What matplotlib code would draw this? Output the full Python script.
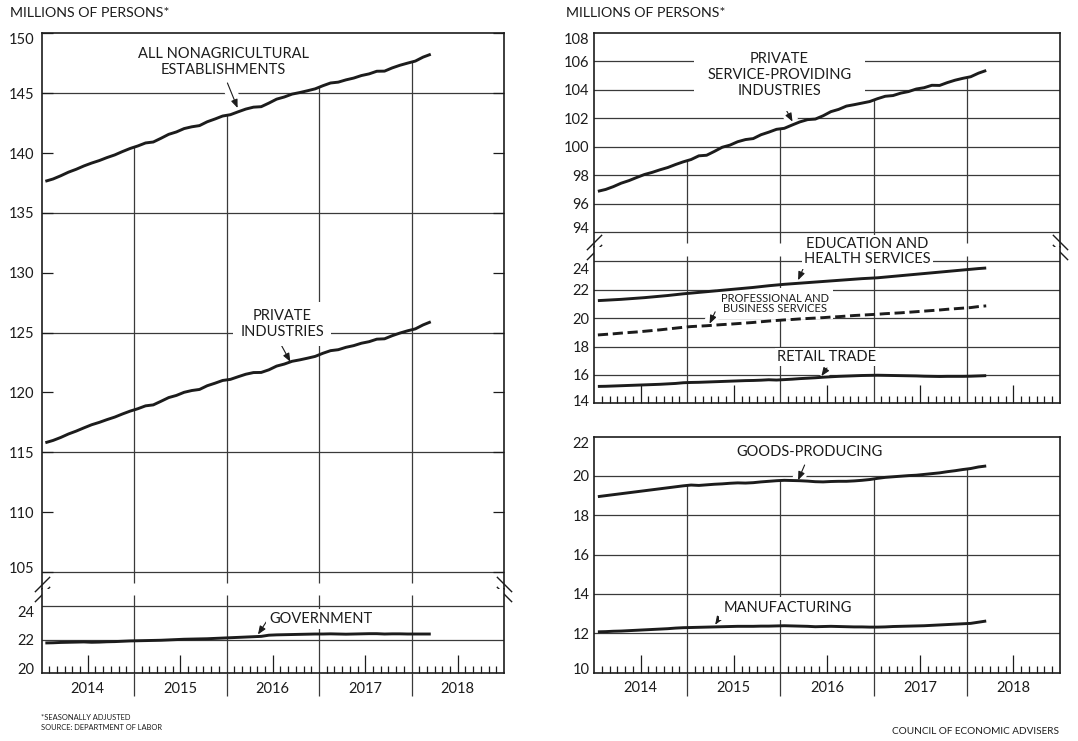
import numpy as np
import matplotlib
matplotlib.use("Agg")
import matplotlib.pyplot as plt
import matplotlib.transforms as mtransforms

# payroll employment, monthly Jan 2014 - Mar 2018, millions of persons (SA)
nonag = [137.64, 137.83, 138.10, 138.40, 138.64, 138.92, 139.16, 139.37, 139.62, 139.84, 140.12, 140.38,
         140.59, 140.84, 140.92, 141.23, 141.56, 141.76, 142.04, 142.19, 142.29, 142.61, 142.84, 143.09,
         143.20, 143.44, 143.67, 143.83, 143.87, 144.17, 144.50, 144.68, 144.92, 145.05, 145.20, 145.36,
         145.62, 145.85, 145.92, 146.11, 146.26, 146.47, 146.61, 146.83, 146.84, 147.11, 147.33, 147.51,
         147.68, 148.01, 148.25]
private = [115.80, 115.99, 116.24, 116.53, 116.77, 117.04, 117.30, 117.50, 117.73, 117.94, 118.20, 118.44,
           118.64, 118.88, 118.96, 119.26, 119.57, 119.75, 120.01, 120.16, 120.25, 120.56, 120.77, 121.00,
           121.09, 121.31, 121.52, 121.66, 121.67, 121.89, 122.20, 122.37, 122.60, 122.72, 122.86, 123.01,
           123.27, 123.49, 123.57, 123.77, 123.91, 124.11, 124.24, 124.45, 124.48, 124.74, 124.96, 125.15,
           125.31, 125.64, 125.90]
government = [21.80, 21.81, 21.83, 21.84, 21.85, 21.86, 21.84, 21.85, 21.87, 21.88, 21.90, 21.92,
              21.93, 21.94, 21.95, 21.96, 21.98, 22.00, 22.02, 22.03, 22.04, 22.05, 22.07, 22.09,
              22.11, 22.13, 22.15, 22.17, 22.19, 22.26, 22.28, 22.29, 22.30, 22.31, 22.32, 22.33,
              22.33, 22.34, 22.33, 22.32, 22.33, 22.34, 22.35, 22.35, 22.33, 22.34, 22.34, 22.33,
              22.33, 22.33, 22.33]
private_services = [96.89, 97.02, 97.22, 97.46, 97.64, 97.86, 98.07, 98.22, 98.40, 98.56, 98.77, 98.96,
                    99.12, 99.38, 99.42, 99.69, 99.98, 100.13, 100.37, 100.52, 100.59, 100.86, 101.04, 101.24,
                    101.31, 101.54, 101.76, 101.92, 101.96, 102.19, 102.48, 102.64, 102.87, 102.97, 103.08, 103.19,
                    103.39, 103.56, 103.61, 103.78, 103.89, 104.07, 104.16, 104.33, 104.32, 104.52, 104.69, 104.82,
                    104.93, 105.18, 105.37]
educ_health = [21.24, 21.27, 21.30, 21.33, 21.37, 21.41, 21.45, 21.50, 21.55, 21.60, 21.66, 21.72,
               21.77, 21.82, 21.87, 21.92, 21.97, 22.02, 22.07, 22.12, 22.17, 22.23, 22.29, 22.34,
               22.39, 22.43, 22.47, 22.51, 22.55, 22.59, 22.63, 22.67, 22.71, 22.75, 22.79, 22.82,
               22.85, 22.90, 22.95, 23.00, 23.05, 23.10, 23.15, 23.20, 23.25, 23.30, 23.35, 23.40,
               23.45, 23.50, 23.54]
prof_business = [18.82, 18.86, 18.90, 18.95, 18.99, 19.03, 19.08, 19.13, 19.18, 19.24, 19.30, 19.36,
                 19.41, 19.44, 19.47, 19.51, 19.55, 19.58, 19.62, 19.66, 19.70, 19.75, 19.80, 19.84,
                 19.88, 19.91, 19.95, 19.98, 20.01, 20.04, 20.08, 20.11, 20.15, 20.19, 20.22, 20.25,
                 20.28, 20.32, 20.35, 20.38, 20.42, 20.46, 20.50, 20.54, 20.58, 20.63, 20.67, 20.71,
                 20.75, 20.82, 20.87]
retail = [15.19, 15.20, 15.22, 15.24, 15.26, 15.28, 15.30, 15.32, 15.34, 15.37, 15.40, 15.45,
          15.47, 15.48, 15.50, 15.52, 15.54, 15.56, 15.58, 15.60, 15.61, 15.63, 15.66, 15.64,
          15.67, 15.70, 15.74, 15.77, 15.80, 15.84, 15.87, 15.90, 15.92, 15.94, 15.96, 15.97,
          15.98, 15.97, 15.96, 15.95, 15.94, 15.93, 15.91, 15.90, 15.89, 15.90, 15.90, 15.90,
          15.91, 15.93, 15.95]
goods = [18.95, 19.00, 19.05, 19.10, 19.15, 19.20, 19.25, 19.30, 19.35, 19.40, 19.45, 19.50,
         19.54, 19.52, 19.55, 19.58, 19.60, 19.63, 19.65, 19.64, 19.66, 19.70, 19.73, 19.76,
         19.78, 19.77, 19.76, 19.74, 19.71, 19.70, 19.72, 19.73, 19.73, 19.75, 19.78, 19.82,
         19.88, 19.93, 19.96, 19.99, 20.02, 20.04, 20.08, 20.12, 20.16, 20.22, 20.27, 20.33,
         20.38, 20.46, 20.51]
manufacturing = [12.07, 12.08, 12.10, 12.11, 12.13, 12.15, 12.17, 12.19, 12.21, 12.23, 12.26, 12.28,
                 12.29, 12.30, 12.31, 12.32, 12.33, 12.34, 12.35, 12.35, 12.35, 12.36, 12.36, 12.37,
                 12.38, 12.37, 12.36, 12.35, 12.33, 12.34, 12.35, 12.34, 12.33, 12.32, 12.32, 12.31,
                 12.31, 12.32, 12.34, 12.35, 12.36, 12.37, 12.38, 12.40, 12.42, 12.44, 12.46, 12.48,
                 12.50, 12.56, 12.62]

years = [2014, 2015, 2016, 2017, 2018]
year_labels = ["2014", "2015", "2016", "2017", "2018"]

x = 2014 + (np.arange(len(nonag)) + 0.5) / 12
bounds = years[1:]

INK = "#1c1c1c"
GRID = "#3a3a3a"
W, H = 1078, 741

plt.rcParams["font.family"] = ["Lato", "DejaVu Sans"]

fig = plt.figure(figsize=(W / 100, H / 100), dpi=100)


def add_ax(l, t, r, b):
    return fig.add_axes([l / W, 1 - b / H, (r - l) / W, (b - t) / H])


def shift(dy):
    return mtransforms.ScaledTranslation(0, dy / 100, fig.dpi_scale_trans)


def frame(ax, ylim, hide, yticks, grid, pad, tick_len=0, edge_shift=(0, 0)):
    ax.set_xlim(2014, 2019)
    ax.set_ylim(*ylim)
    for s in ax.spines.values():
        s.set_linewidth(1.2)
        s.set_color(INK)
    for s in hide:
        ax.spines[s].set_visible(False)
    ax.tick_params(axis="x", which="both", bottom=False, labelbottom=False)
    ax.set_yticks(yticks, labels=[str(v) for v in yticks])
    ax.tick_params(axis="y", direction="in", length=tick_len, width=0.9, right=True,
                   pad=pad, labelsize=10.5, colors=INK)
    # pull the end labels inward, away from the frame corners / breaks
    lo, hi = min(yticks), max(yticks)
    for lab, v in zip(ax.get_yticklabels(), yticks):
        if v == hi and edge_shift[1]:
            lab.set_transform(lab.get_transform() + shift(-edge_shift[1]))
        if v == lo and edge_shift[0]:
            lab.set_transform(lab.get_transform() + shift(edge_shift[0]))
    for g in grid:
        ax.axhline(g, color=GRID, lw=0.9, zorder=1)


def month_ticks(ax, labels):
    ax.set_xticks([y + 0.5 for y in years], labels=year_labels if labels else [])
    ax.set_xticks([y + m / 12 for y in years for m in range(1, 12) if m != 6], minor=True)
    ax.tick_params(axis="x", which="major", bottom=True, direction="in", length=13, width=0.9,
                   pad=6, labelsize=10.5, colors=INK, labelbottom=labels)
    ax.tick_params(axis="x", which="minor", bottom=True, direction="in", length=5, width=0.9,
                   colors=INK)
    if labels:
        h = 23 / (ax.get_position().height * H)
        ax.vlines(bounds, -h, 0, transform=ax.get_xaxis_transform(), colors=GRID,
                  lw=0.9, clip_on=False)


def break_marks(ax):
    for sx, mk in ((0, [(-1, -1), (1, 1)]), (1, [(-1, 1), (1, -1)])):
        for dy in (-5, 5):
            ax.plot([sx], [0], transform=ax.transAxes + shift(dy), marker=mk, ms=11,
                    mew=1, color=INK, ls="none", clip_on=False, zorder=5)


def series(ax, y, **kw):
    ax.plot(x, y, color=INK, lw=2.1, solid_capstyle="butt", zorder=4, **kw)


def label(ax, text, xy, tail, tip, ha="center", fs=10.5, pad=0.3, ls=1.15):
    # white gap cut into the grid where the pointer crosses it
    ax.plot([tail[0], tip[0]], [tail[1], tip[1]], color="white", lw=9,
            solid_capstyle="butt", zorder=1.5)
    ax.annotate("", xy=tip, xytext=tail, zorder=2,
                arrowprops=dict(arrowstyle="-|>,head_length=0.5,head_width=0.2",
                                color=INK, lw=0.8, shrinkA=0, shrinkB=0, mutation_scale=10))
    ax.text(*xy, text, ha=ha, va="center", fontsize=fs, color=INK, linespacing=ls, zorder=3,
            bbox=dict(boxstyle=f"square,pad={pad}", fc="white", ec="none"))


# ---------------- left panel ----------------
axL1 = add_ax(41.5, 33.3, 504, 589)
axL2 = add_ax(41.5, 589, 504, 673.3)

frame(axL1, (103.58, 150), ["bottom"], list(range(105, 151, 5)), [145, 135, 125, 115, 105],
      pad=5.4, tick_len=8, edge_shift=(5, 5))
frame(axL2, (20, 25), ["top"], [20, 22, 24], [24, 22], pad=5.4, edge_shift=(5, 6))
month_ticks(axL2, True)
break_marks(axL1)

axL1.vlines(bounds, 104.1, np.interp(bounds, x, nonag), colors=GRID, lw=0.9, zorder=1)
axL2.vlines(bounds, 20, 24.65, colors=GRID, lw=0.9, zorder=1)

series(axL1, nonag)
series(axL1, private)
series(axL2, government)

label(axL1, "ALL NONAGRICULTURAL\nESTABLISHMENTS", (2015.97, 147.6), (2016.01, 145.85), (2016.12, 143.76))
label(axL1, "PRIVATE\nINDUSTRIES", (2016.60, 125.72), (2016.58, 124.13), (2016.69, 122.56), pad=0.5)
label(axL2, "GOVERNMENT", (2016.46, 23.23), (2016.43, 23.05), (2016.34, 22.3), ha="left", pad=0.2)

# ---------------- right panels ----------------
axR1 = add_ax(594, 33, 1060, 247.3)
axR2 = add_ax(594, 247.3, 1060, 403.3)
axR3 = add_ax(594, 436.7, 1060, 672.5)

frame(axR1, (92.96, 108), ["bottom"], list(range(94, 109, 2)), list(range(94, 107, 2)),
      pad=3.4, edge_shift=(5, 5))
frame(axR2, (14, 25), ["top"], list(range(14, 25, 2)), list(range(16, 25, 2)),
      pad=3.4, edge_shift=(3, 7))
frame(axR3, (10, 22), [], list(range(10, 23, 2)), list(range(12, 21, 2)),
      pad=3.4, edge_shift=(4, 6))
month_ticks(axR2, False)
month_ticks(axR3, True)
break_marks(axR1)

axR1.vlines(bounds, 93.28, np.interp(bounds, x, private_services), colors=GRID, lw=0.9, zorder=1)
axR2.vlines(bounds, 14, 24.37, colors=GRID, lw=0.9, zorder=1)
axR3.vlines(bounds, 10, np.interp(bounds, x, goods), colors=GRID, lw=0.9, zorder=1)

series(axR1, private_services)
series(axR2, educ_health)
series(axR2, prof_business, ls=(0, (3.5, 1.6)))
series(axR2, retail)
series(axR3, goods)
series(axR3, manufacturing)

label(axR1, "PRIVATE\nSERVICE-PROVIDING\nINDUSTRIES", (2015.99, 105.05), (2016.02, 103.11),
      (2016.13, 101.78), pad=0.9)
label(axR2, "EDUCATION AND\nHEALTH SERVICES", (2016.93, 24.70), (2016.26, 23.74), (2016.19, 22.68),
      pad=0.15)
label(axR2, "PROFESSIONAL AND\nBUSINESS SERVICES", (2015.94, 21.03), (2015.30, 20.45),
      (2015.24, 19.61), fs=8, pad=0.4, ls=0.95)
label(axR2, "RETAIL TRADE", (2016.50, 17.28), (2016.50, 16.49), (2016.44, 15.92), pad=0.15)
label(axR3, "GOODS-PRODUCING", (2016.31, 21.24), (2016.26, 20.56), (2016.19, 19.79))
label(axR3, "MANUFACTURING", (2015.39, 13.27), (2015.38, 13.02), (2015.30, 12.43), ha="left")

# ---------------- titles and notes ----------------
fig.text(10 / W, 1 - 13 / H, "MILLIONS OF PERSONS*", fontsize=10.2, color=INK, va="center")
fig.text(566 / W, 1 - 13 / H, "MILLIONS OF PERSONS*", fontsize=10.2, color=INK, va="center")
fig.text(41 / W, 1 - 717 / H, "*SEASONALLY ADJUSTED", fontsize=5.4, color=INK, va="center")
fig.text(41 / W, 1 - 728 / H, "SOURCE: DEPARTMENT OF LABOR", fontsize=5.4, color=INK, va="center")
fig.text(1059 / W, 1 - 731 / H, "COUNCIL OF ECONOMIC ADVISERS", fontsize=7.2, color=INK,
         va="center", ha="right")

fig.savefig("out.png", dpi=100)
